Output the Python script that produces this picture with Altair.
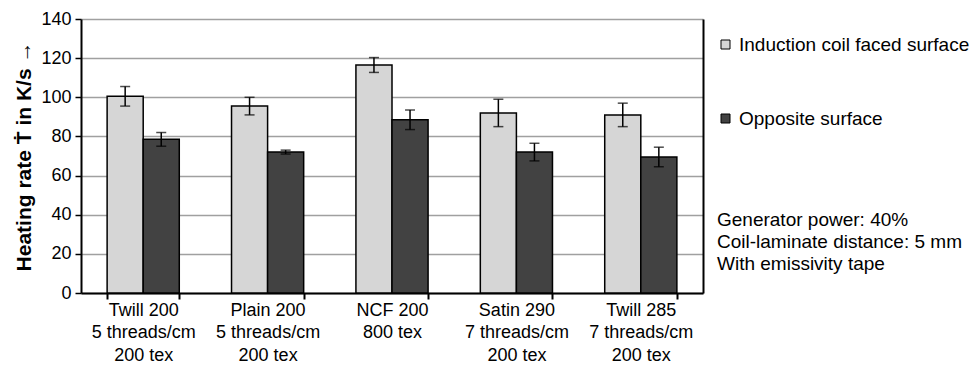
import altair as alt
import pandas as pd

categories = ["Twill 200|5 threads/cm|200 tex", "Plain 200|5 threads/cm|200 tex",
              "NCF 200|800 tex", "Satin 290|7 threads/cm|200 tex", "Twill 285|7 threads/cm|200 tex"]
series_names = ["Induction coil faced surface", "Opposite surface"]
induction = [100.5, 95.5, 116.5, 92.0, 91.0]
induction_err = [5.0, 4.5, 3.8, 7.0, 6.0]
opposite = [78.5, 72.0, 88.5, 72.0, 69.5]
opposite_err = [3.5, 1.0, 5.0, 4.5, 5.0]
y_ticks = [0, 20, 40, 60, 80, 100, 120, 140]
annotation_lines = ["Generator power: 40%", "Coil-laminate distance: 5 mm", "With emissivity tape"]
y_title = "Heating rate Ṫ in K/s  →"

rows = []
for i, c in enumerate(categories):
    rows.append({"cat": c, "series": series_names[0], "v": induction[i],
                 "lo": induction[i] - induction_err[i], "hi": induction[i] + induction_err[i]})
    rows.append({"cat": c, "series": series_names[1], "v": opposite[i],
                 "lo": opposite[i] - opposite_err[i], "hi": opposite[i] + opposite_err[i]})
df = pd.DataFrame(rows)

FONT = "Liberation Sans"
W, H = 622, 274

x_enc = alt.X("cat:N", sort=categories,
              scale=alt.Scale(paddingInner=0.42, paddingOuter=0.21),
              axis=alt.Axis(title=None, labelExpr="split(datum.label, '|')", tickBand="extent",
                            labelAngle=0, domainColor="black", domainWidth=2, tickColor="black",
                            tickSize=6, tickWidth=2, labelFontSize=18, labelFont=FONT,
                            labelColor="black", labelPadding=2, labelLineHeight=22.5,
                            labelBaseline="top"))
xo_enc = alt.XOffset("series:N", sort=series_names, scale=alt.Scale(paddingInner=0, paddingOuter=0))
y_scale = alt.Scale(domain=[0, 140], nice=False)

base = alt.Chart(df)

bars = base.mark_bar(stroke="black", strokeWidth=1.5).encode(
    x=x_enc, xOffset=xo_enc,
    y=alt.Y("v:Q", scale=y_scale,
            axis=alt.Axis(values=y_ticks, title=y_title, titleFont=FONT, titleFontSize=21,
                          titleFontWeight="bold", titleColor="black", titlePadding=6,
                          labelFont=FONT, labelFontSize=18, labelColor="black", labelPadding=4,
                          domainColor="black", domainWidth=2, tickColor="black", tickSize=6,
                          tickWidth=1.5, gridColor="#a0a0a0", gridWidth=1.5)),
    color=alt.Color("series:N", sort=series_names,
                    scale=alt.Scale(domain=series_names, range=["#d6d6d6", "#424242"]),
                    legend=alt.Legend(title=None, orient="none", legendX=635, legendY=16,
                                      padding=0, symbolType="square", symbolSize=81,
                                      symbolStrokeColor="black", symbolStrokeWidth=1,
                                      labelFont=FONT, labelFontSize=19, labelColor="black",
                                      labelOffset=4, rowPadding=54, labelLimit=400)),
)

err = base.mark_rule(color="black", strokeWidth=1.5).encode(
    x=alt.X("cat:N", sort=categories), xOffset=xo_enc,
    y=alt.Y("lo:Q", scale=y_scale,
            axis=alt.Axis(orient="right", labels=False, ticks=False, title=None, grid=False,
                          domainColor="black", domainWidth=2)),
    y2="hi:Q",
)
cap_lo = base.mark_tick(color="black", thickness=1.5, size=10).encode(
    x=alt.X("cat:N", sort=categories), xOffset=xo_enc, y=alt.Y("lo:Q", scale=y_scale, axis=None))
cap_hi = base.mark_tick(color="black", thickness=1.5, size=10).encode(
    x=alt.X("cat:N", sort=categories), xOffset=xo_enc, y=alt.Y("hi:Q", scale=y_scale, axis=None))

note = alt.Chart(pd.DataFrame({"k": [0]})).mark_text(
    align="left", baseline="top", font=FONT, fontSize=19, color="black", lineHeight=22
).encode(x=alt.value(636), y=alt.value(192), text=alt.value(annotation_lines))

chart = alt.layer(bars, err, cap_lo, cap_hi, note).resolve_axis(y="independent").properties(
    width=W, height=H,
    autosize=alt.AutoSizeParams(type="none"),
    padding={"left": 81, "top": 19, "right": 969 - 81 - W, "bottom": 369 - 19 - H},
    background="white",
).configure_view(stroke=None)

chart.save("out.html", embed_options={"renderer": "svg", "actions": False})
